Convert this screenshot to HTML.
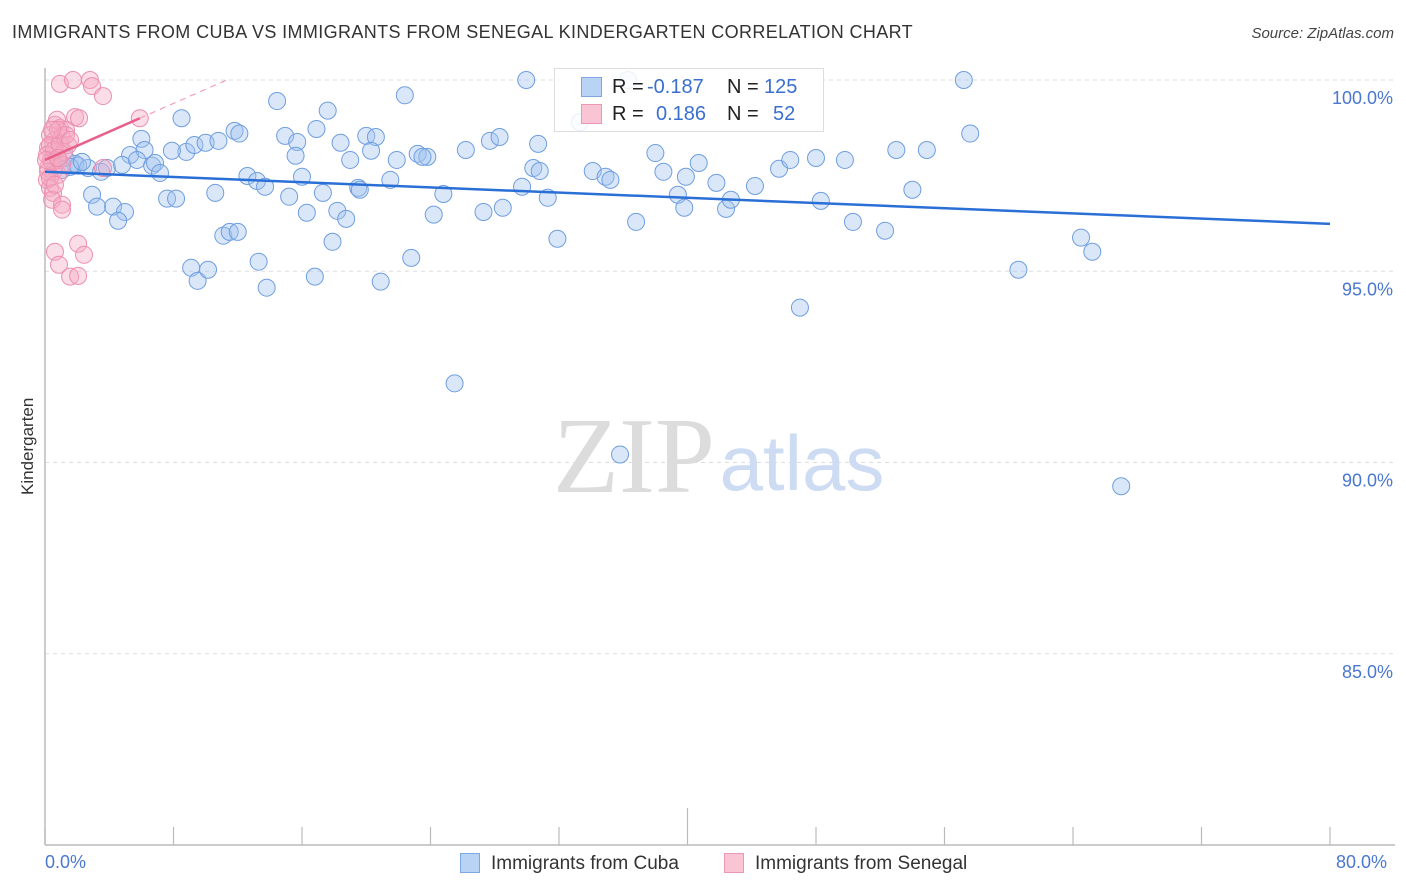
<!DOCTYPE html>
<html><head><meta charset="utf-8">
<style>
body{margin:0;background:#fff;font-family:"Liberation Sans",sans-serif;}
#wrap{position:relative;width:1406px;height:892px;overflow:hidden;}
.t{position:absolute;white-space:nowrap;}
</style></head>
<body>
<div id="wrap">
<div class="t" style="left:12px;top:22px;font-size:18px;letter-spacing:0.38px;color:#333;">IMMIGRANTS FROM CUBA VS IMMIGRANTS FROM SENEGAL KINDERGARTEN CORRELATION CHART</div>
<div class="t" style="right:12px;top:25px;font-size:15px;color:#444;font-style:italic;">Source: ZipAtlas.com</div>
<div class="t" style="left:-12px;top:445px;font-size:17px;color:#333;transform:rotate(-90deg);transform-origin:center;width:80px;text-align:center;">Kindergarten</div>
<svg id="svg" width="1406" height="892" style="position:absolute;left:0;top:0"></svg>
<div class="t" style="left:45px;top:852px;font-size:18px;color:#4a77d0;">0.0%</div>
<div class="t" style="left:1336px;top:852px;font-size:18px;color:#4a77d0;">80.0%</div>
<div style="position:absolute;left:460px;top:853px;">
<span style="position:absolute;left:0;top:0;width:20px;height:20px;background:#b9d3f5;border:1px solid #7ea6e0;box-sizing:border-box"></span>
<span class="t" style="left:31px;top:0;font-size:19px;color:#333">Immigrants from Cuba</span></div>
<div style="position:absolute;left:724px;top:853px;">
<span style="position:absolute;left:0;top:0;width:20px;height:20px;background:#f9c5d5;border:1px solid #ec98b2;box-sizing:border-box"></span>
<span class="t" style="left:31px;top:0;font-size:19px;color:#333">Immigrants from Senegal</span></div>
<div style="position:absolute;left:554px;top:68px;width:268px;height:62px;border:1px solid #ddd;background:rgba(255,255,255,0.85);font-size:20px;">
<span style="position:absolute;left:26px;top:8px;width:21px;height:20px;background:#b9d3f5;border:1px solid #7ea6e0;box-sizing:border-box"></span>
<span class="t" style="left:57px;top:7px;color:#222">R =</span><span class="t" style="left:92px;top:7px;color:#3a6fd0">-0.187</span>
<span class="t" style="left:172px;top:7px;color:#222">N =</span><span class="t" style="left:209px;top:7px;color:#3a6fd0">125</span>
<span style="position:absolute;left:26px;top:35px;width:21px;height:20px;background:#f9c5d5;border:1px solid #ec98b2;box-sizing:border-box"></span>
<span class="t" style="left:57px;top:34px;color:#222">R =</span><span class="t" style="left:101px;top:34px;color:#3a6fd0">0.186</span>
<span class="t" style="left:172px;top:34px;color:#222">N =</span><span class="t" style="left:218px;top:34px;color:#3a6fd0">52</span>
</div>
</div>
<script>
const yTicks=[100,95,90,85];
const yTickLabels=["100.0%","95.0%","90.0%","85.0%"];
const xTicks=[0,8,16,24,32,40,48,56,64,72,80];
const cubaX=[29.96,36.3,57.2,14.45,22.4,17.6,8.5,57.6,6.0,11.8,12.1,14.95,16.9,20.0,20.6,15.7,23.2,26.2,27.7,28.3,30.7,33.3,5.3,6.2,8.8,7.9,9.3,10.0,10.8,15.6,18.4,20.3,19.0,21.9,23.8,23.5,30.4,30.8,34.1,34.9,35.2,38.0,38.5,39.9,40.7,41.8,44.2,45.7,46.4,48.0,49.8,53.0,54.9,54.0,48.3,50.3,52.3,64.5,65.2,60.6,47.0,25.5,35.8,67.0,1.25,1.87,2.06,2.68,3.49,3.86,4.8,5.73,6.67,6.85,7.16,2.93,3.24,4.24,4.98,4.55,7.6,8.16,10.6,12.6,13.2,13.7,16.0,15.2,17.3,19.5,19.6,21.5,16.3,18.2,18.75,24.8,24.2,27.3,28.5,29.7,31.3,31.9,36.8,39.4,39.8,42.4,42.7,11.1,11.5,12.0,17.9,9.1,9.5,10.15,13.3,13.8,16.8,20.9,22.8,1.06,1.56,2.3];
const cubaY=[100.0,100.0,100.0,99.45,99.6,99.2,99.0,98.6,98.46,98.67,98.6,98.54,98.72,98.54,98.51,98.38,98.07,98.17,98.41,98.51,98.33,98.9,98.04,98.17,98.12,98.15,98.3,98.36,98.41,98.02,98.36,98.15,97.91,97.91,97.99,97.99,97.7,97.62,97.62,97.47,97.39,98.09,97.6,97.47,97.83,97.31,97.23,97.68,97.91,97.96,97.91,98.17,98.17,97.13,96.84,96.29,96.06,95.88,95.51,95.04,94.05,92.07,90.21,89.38,97.96,97.81,97.76,97.7,97.6,97.7,97.78,97.91,97.76,97.83,97.57,97.0,96.69,96.69,96.55,96.32,96.9,96.9,97.05,97.49,97.36,97.21,97.47,96.95,97.05,97.18,97.13,97.39,96.53,96.58,96.37,97.02,96.48,96.55,96.66,97.21,96.92,95.85,96.29,97.0,96.66,96.63,96.87,95.93,96.03,96.03,95.77,95.09,94.75,95.04,95.25,94.57,94.86,94.73,95.35,97.65,97.73,97.86];
const senX=[0.93,1.74,2.8,2.93,3.61,5.9,1.87,2.12,0.62,0.93,1.31,0.31,0.62,1.06,0.19,0.68,0.37,0.19,0.5,0.81,0.12,0.31,0.5,0.44,1.06,1.06,0.62,2.06,2.43,0.87,1.56,2.06,3.61,0.87,1.43,0.31,1.18,0.12,0.56,0.93,0.44,0.19,1.31,0.75,1.06,0.31,0.62,0.81,1.56,0.06,0.44,0.81];
const senY=[99.9,100.0,100.0,99.84,99.58,99.0,99.03,99.0,98.83,98.75,98.7,98.56,98.43,98.49,98.23,98.12,97.91,97.7,97.6,97.52,97.39,97.18,97.05,96.87,96.74,96.61,95.51,95.72,95.43,95.17,94.86,94.88,97.7,97.91,98.3,98.3,98.12,98.04,98.17,98.33,97.86,97.6,98.56,98.96,97.78,97.44,97.26,98.7,98.43,97.91,98.7,97.96];
const cubaTrend=[97.6,96.24];
const senTrend=[97.91,99.0];
const senTrendX=5.9;

const NS="http://www.w3.org/2000/svg";
const svg=document.getElementById('svg');
const X0=45,X1=1330,Y0=80,Y1=845;
const sx=v=>X0+(v/80)*(X1-X0);
const sy=v=>Y0+(100-v)/20*(Y1-Y0);
function mk(tag,attrs){const e=document.createElementNS(NS,tag);for(const k in attrs)e.setAttribute(k,attrs[k]);svg.appendChild(e);return e;}

yTicks.forEach((t,i)=>{
  const g=mk('line',{x1:X0,x2:1395,y1:sy(t),y2:sy(t),stroke:'#ddd','stroke-dasharray':'4,4','stroke-width':1});
  
  
  const tx=mk('text',{x:1393,y:sy(t)+24,'text-anchor':'end','font-size':18,fill:'#4a77d0','font-family':'Liberation Sans, sans-serif'});
  tx.textContent=yTickLabels[i];
  
  
});
const ya=mk('line',{x1:X0,x2:X0,y1:68,y2:Y1,stroke:'#bbb','stroke-width':1.5});


const xa=mk('line',{x1:X0,x2:1395,y1:Y1,y2:Y1,stroke:'#bbb','stroke-width':1.5});


xTicks.forEach(t=>{
  const l=mk('line',{x1:sx(t),x2:sx(t),y1:(t===40?808:827),y2:Y1,stroke:'#bbb','stroke-width':1.2});
  
  
});
const w1=mk('text',{x:634,y:492,'text-anchor':'middle','font-size':108,fill:'#dcdcdc','font-family':'Liberation Serif, serif'});
w1.textContent='ZIP';


const w2=mk('text',{x:802,y:490,'text-anchor':'middle','font-size':78,fill:'#cddcf3','font-family':'Liberation Sans, sans-serif'});
w2.textContent='atlas';



cubaX.forEach((x,i)=>{
  const c=mk('circle',{cx:sx(x),cy:sy(cubaY[i]),r:8.5,fill:'rgba(160,195,240,0.4)',stroke:'#6f9ee0','stroke-width':1});
  
  
});
senX.forEach((x,i)=>{
  const c=mk('circle',{cx:sx(x),cy:sy(senY[i]),r:8.5,fill:'rgba(245,170,195,0.4)',stroke:'#ec8fae','stroke-width':1});
  
  
});
const bl=mk('line',{x1:sx(0),y1:sy(cubaTrend[0]),x2:sx(80),y2:sy(cubaTrend[1]),stroke:'#2a6fd6','stroke-width':2.5});


const slope=(senTrend[1]-senTrend[0])/senTrendX;
const xEnd=(100-senTrend[0])/slope;
const pd=mk('line',{x1:sx(senTrendX),y1:sy(senTrend[1]),x2:sx(xEnd),y2:sy(100),stroke:'#f0a0b8','stroke-width':1.2,'stroke-dasharray':'6,5'});


const pl=mk('line',{x1:sx(0),y1:sy(senTrend[0]),x2:sx(senTrendX),y2:sy(senTrend[1]),stroke:'#e8608a','stroke-width':2.5});


</script>
</body></html>
